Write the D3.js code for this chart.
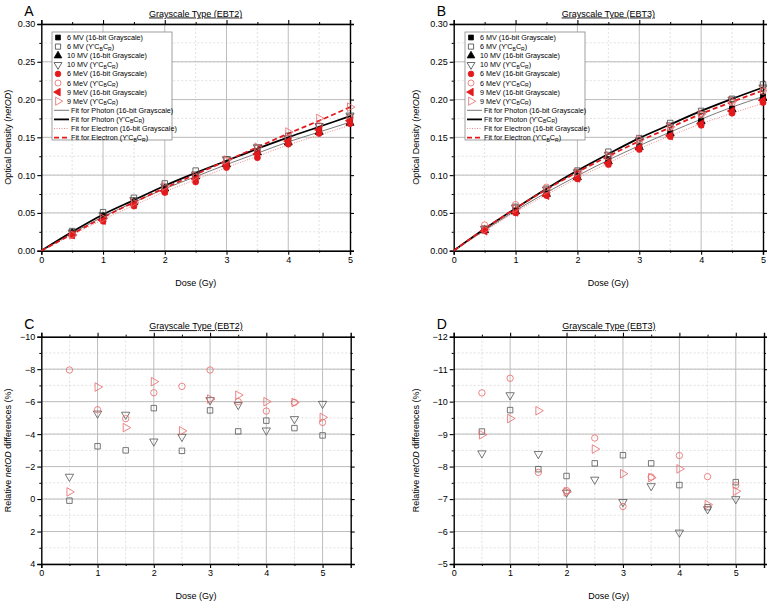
<!DOCTYPE html>
<html>
<head>
<meta charset="utf-8">
<script src="https://cdn.jsdelivr.net/npm/d3@7"></script>
<style>
  body { margin: 0; background: #fff; }
  svg { font-family: "Liberation Sans", Arial, sans-serif; }
</style>
</head>
<body>
<div id="chart"></div>
<script>
// Doses
const doses = [0.5, 1, 1.5, 2, 2.5, 3, 3.5, 4, 4.5, 5];
const fitDoses = [0, 0.5, 1, 1.5, 2, 2.5, 3, 3.5, 4, 4.5, 5];

// Legend labels
const seriesLabels = [
  "6 MV (16-bit Grayscale)", "6 MV (Y'CBCR)",
  "10 MV (16-bit Grayscale)", "10 MV (Y'CBCR)",
  "6 MeV (16-bit Grayscale)", "6 MeV (Y'CBCR)",
  "9 MeV (16-bit Grayscale)", "9 MeV (Y'CBCR)"
];
const fitLabels = [
  "Fit for Photon (16-bit Grayscale)", "Fit for Photon (Y'CBCR)",
  "Fit for Electron (16-bit Grayscale)", "Fit for Electron (Y'CBCR)"
];

// EBT2 netOD (panel A)
const ebt2_6MV_gray   = [0.024, 0.046, 0.065, 0.083, 0.099, 0.115, 0.131, 0.145, 0.158, 0.170];
const ebt2_6MV_ycc    = [0.026, 0.051, 0.070, 0.089, 0.106, 0.121, 0.136, 0.152, 0.165, 0.177];
const ebt2_10MV_gray  = [0.023, 0.045, 0.064, 0.082, 0.098, 0.114, 0.130, 0.143, 0.157, 0.169];
const ebt2_10MV_ycc   = [0.024, 0.047, 0.067, 0.085, 0.101, 0.121, 0.137, 0.149, 0.165, 0.179];
const ebt2_6MeV_gray  = [0.020, 0.039, 0.059, 0.077, 0.091, 0.110, 0.123, 0.141, 0.155, 0.168];
const ebt2_6MeV_ycc   = [0.021, 0.042, 0.062, 0.082, 0.097, 0.119, 0.131, 0.149, 0.165, 0.176];
const ebt2_9MeV_gray  = [0.021, 0.040, 0.061, 0.079, 0.095, 0.113, 0.128, 0.145, 0.160, 0.172];
const ebt2_9MeV_ycc   = [0.021, 0.043, 0.064, 0.085, 0.099, 0.120, 0.137, 0.157, 0.175, 0.190];
const ebt2_fitPhotonGray = [0, 0.023, 0.045, 0.064, 0.082, 0.098, 0.114, 0.129, 0.144, 0.157, 0.170];
const ebt2_fitPhotonYcc  = [0, 0.025, 0.048, 0.067, 0.086, 0.103, 0.119, 0.135, 0.150, 0.164, 0.178];
const ebt2_fitElecGray   = [0, 0.021, 0.041, 0.060, 0.078, 0.094, 0.110, 0.125, 0.140, 0.153, 0.166];
const ebt2_fitElecYcc    = [0, 0.022, 0.044, 0.064, 0.083, 0.101, 0.119, 0.137, 0.155, 0.172, 0.190];

// EBT3 netOD (panel B)
const ebt3_6MV_gray   = [0.027, 0.053, 0.076, 0.098, 0.121, 0.138, 0.156, 0.172, 0.188, 0.204];
const ebt3_6MV_ycc    = [0.029, 0.058, 0.082, 0.106, 0.131, 0.149, 0.169, 0.185, 0.201, 0.220];
const ebt3_10MV_gray  = [0.027, 0.052, 0.075, 0.097, 0.118, 0.137, 0.155, 0.171, 0.187, 0.202];
const ebt3_10MV_ycc   = [0.029, 0.057, 0.081, 0.104, 0.127, 0.146, 0.166, 0.181, 0.200, 0.216];
const ebt3_6MeV_gray  = [0.027, 0.050, 0.073, 0.095, 0.114, 0.134, 0.151, 0.166, 0.182, 0.196];
const ebt3_6MeV_ycc   = [0.034, 0.061, 0.084, 0.102, 0.124, 0.143, 0.163, 0.180, 0.196, 0.211];
const ebt3_9MeV_gray  = [0.026, 0.051, 0.073, 0.096, 0.116, 0.136, 0.152, 0.168, 0.185, 0.199];
const ebt3_9MeV_ycc   = [0.028, 0.056, 0.080, 0.104, 0.126, 0.147, 0.164, 0.181, 0.198, 0.213];
const ebt3_fitPhotonGray = [0, 0.027, 0.053, 0.077, 0.099, 0.120, 0.139, 0.157, 0.174, 0.190, 0.204];
const ebt3_fitPhotonYcc  = [0, 0.029, 0.056, 0.082, 0.106, 0.128, 0.149, 0.167, 0.185, 0.201, 0.216];
const ebt3_fitElecGray   = [0, 0.026, 0.051, 0.074, 0.096, 0.116, 0.135, 0.152, 0.168, 0.182, 0.195];
const ebt3_fitElecYcc    = [0, 0.029, 0.056, 0.081, 0.104, 0.125, 0.145, 0.163, 0.181, 0.197, 0.212];

// Relative netOD differences (%) (panels C and D)
const diffEbt2_6MV  = [0.1, -3.25, -3.0, -5.6, -2.97, -5.46, -4.17, -4.83, -4.37, -3.92];
const diffEbt2_10MV = [-1.38, -5.27, -5.2, -3.55, -3.84, -6.1, -5.8, -4.23, -4.93, -5.87];
const diffEbt2_6MeV = [-7.95, -5.5, -4.95, -6.55, -6.94, -7.95, -6.0, -5.42, -5.95, -4.72];
const diffEbt2_9MeV = [-0.44, -6.9, -4.4, -7.23, -4.2, -6.16, -6.4, -6.0, -5.95, -5.03];
const diffEbt3_6MV  = [-9.08, -9.74, -7.92, -7.71, -8.1, -8.35, -8.1, -7.43, -6.75, -7.52];
const diffEbt3_10MV = [-8.41, -10.2, -8.39, -7.2, -7.6, -6.91, -7.4, -5.97, -6.69, -7.0];
const diffEbt3_6MeV = [-10.27, -10.72, -7.82, -7.26, -8.88, -6.77, -7.68, -8.34, -7.69, -7.42];
const diffEbt3_9MeV = [-8.98, -9.48, -9.72, -7.22, -8.54, -7.78, -7.66, -7.93, -6.83, -7.24];

const width = 767, height = 602;
const svg = d3.select("#chart").append("svg")
  .attr("width", width).attr("height", height);

const BLACK = "#000", GRAY = "#444", RED = "#e3191c", PINK = "#e86868";

// marker styles, in legend order
const markers = [
  { type: d3.symbolSquare, rot: 0, fill: BLACK, stroke: BLACK, size: 26 },
  { type: d3.symbolSquare, rot: 0, fill: "none", stroke: GRAY, size: 30 },
  { type: d3.symbolTriangle, rot: 0, fill: BLACK, stroke: BLACK, size: 28 },
  { type: d3.symbolTriangle, rot: 180, fill: "none", stroke: GRAY, size: 30 },
  { type: d3.symbolCircle, rot: 0, fill: RED, stroke: RED, size: 28 },
  { type: d3.symbolCircle, rot: 0, fill: "none", stroke: PINK, size: 32 },
  { type: d3.symbolTriangle, rot: -90, fill: RED, stroke: RED, size: 28 },
  { type: d3.symbolTriangle, rot: 90, fill: "none", stroke: PINK, size: 32 }
];
const fitStyles = [
  { color: "#7a7a7a", width: 1, dash: null },
  { color: "#000", width: 1.8, dash: null },
  { color: "#f08a8a", width: 1, dash: "1,1.5" },
  { color: RED, width: 1.8, dash: "5,3" }
];

// writes text, turning Y'CBCR into Y'C_B C_R with subscripts
function richText(sel, str) {
  const parts = str.split("Y'CBCR");
  parts.forEach((p, i) => {
    if (p) sel.append("tspan").text(p);
    if (i < parts.length - 1) {
      sel.append("tspan").text("Y'C");
      sel.append("tspan").attr("font-size", "0.7em").attr("dy", 1.5).text("B");
      sel.append("tspan").attr("dy", -1.5).text("C");
      sel.append("tspan").attr("font-size", "0.7em").attr("dy", 1.5).text("R");
      sel.append("tspan").attr("dy", -1.5).text(")");
    }
  });
}

function drawPanel(cfg) {
  const g = svg.append("g");
  const x = d3.scaleLinear().domain(cfg.xDomain).range([cfg.left, cfg.right]);
  const y = d3.scaleLinear().domain(cfg.yDomain).range([cfg.bottom, cfg.top]);

  // grid
  const xMinor = d3.range(cfg.xDomain[0] + 0.5, cfg.xDomain[1], 1);
  const xMajor = d3.range(cfg.xDomain[0] + 1, cfg.xDomain[1], 1);
  const yMinor = d3.range(Math.min(...cfg.yDomain), Math.max(...cfg.yDomain) + 1e-9, cfg.yMinor);
  const yMajor = d3.range(Math.min(...cfg.yDomain), Math.max(...cfg.yDomain) + 1e-9, cfg.yMajor);
  g.selectAll(".xminor").data(xMinor).join("line")
    .attr("x1", d => x(d)).attr("x2", d => x(d)).attr("y1", cfg.top).attr("y2", cfg.bottom)
    .attr("stroke", "#d4d4d4").attr("stroke-width", 0.7).attr("stroke-dasharray", "2,2");
  g.selectAll(".yminor").data(yMinor).join("line")
    .attr("y1", d => y(d)).attr("y2", d => y(d)).attr("x1", cfg.left).attr("x2", cfg.right)
    .attr("stroke", "#d4d4d4").attr("stroke-width", 0.7).attr("stroke-dasharray", "2,2");
  g.selectAll(".xmajor").data(xMajor).join("line")
    .attr("x1", d => x(d)).attr("x2", d => x(d)).attr("y1", cfg.top).attr("y2", cfg.bottom)
    .attr("stroke", "#bdbdbd").attr("stroke-width", 1);
  g.selectAll(".ymajor").data(yMajor).join("line")
    .attr("y1", d => y(d)).attr("y2", d => y(d)).attr("x1", cfg.left).attr("x2", cfg.right)
    .attr("stroke", "#bdbdbd").attr("stroke-width", 1);

  // axes (all four sides)
  const xTicks = d3.range(cfg.xDomain[0], 5 + 1e-9, 1);
  const axB = d3.axisBottom(x).tickValues(xTicks).tickFormat(d3.format("d")).tickSize(4).tickPadding(2);
  const axT = d3.axisTop(x).tickValues(xTicks).tickFormat("").tickSize(4);
  const axL = d3.axisLeft(y).tickValues(yMajor).tickFormat(cfg.yFormat).tickSize(4).tickPadding(2);
  const axR = d3.axisRight(y).tickValues(yMajor).tickFormat("").tickSize(4);
  const minorB = d3.axisBottom(x).tickValues(xMinor).tickFormat("").tickSize(2);
  const minorT = d3.axisTop(x).tickValues(xMinor).tickFormat("").tickSize(2);
  const yMinorOnly = yMinor.filter(v => !yMajor.some(m => Math.abs(m - v) < 1e-9));
  const minorL = d3.axisLeft(y).tickValues(yMinorOnly).tickFormat("").tickSize(2);
  const minorR = d3.axisRight(y).tickValues(yMinorOnly).tickFormat("").tickSize(2);

  [[axB, minorB, `translate(0,${cfg.bottom})`], [axT, minorT, `translate(0,${cfg.top})`],
   [axL, minorL, `translate(${cfg.left},0)`], [axR, minorR, `translate(${cfg.right},0)`]]
    .forEach(([ax, mn, tr]) => {
      const a = g.append("g").attr("transform", tr).call(ax);
      a.select(".domain").attr("stroke-width", 1.4);
      a.selectAll(".tick line").attr("stroke-width", 1.1);
      a.selectAll("text").attr("font-size", 9).attr("font-family", "Liberation Sans, Arial").attr("fill", "#000");
      const m = g.append("g").attr("transform", tr).call(mn);
      m.select(".domain").remove();
      m.selectAll(".tick line").attr("stroke-width", 1);
    });

  // fit lines
  if (cfg.fits) {
    const line = d3.line().x((d, i) => x(fitDoses[i])).y(d => y(d)).curve(d3.curveMonotoneX);
    cfg.fits.forEach((f, i) => {
      const s = fitStyles[i];
      g.append("path").attr("d", line(f)).attr("fill", "none")
        .attr("stroke", s.color).attr("stroke-width", s.width)
        .attr("stroke-dasharray", s.dash);
    });
  }

  // points
  cfg.series.forEach(sr => {
    const m = markers[sr.marker];
    const sym = d3.symbol().type(m.type).size(m.size);
    g.append("g").selectAll("path").data(sr.values).join("path")
      .attr("d", sym)
      .attr("transform", (d, i) => `translate(${x(doses[i])},${y(d)}) rotate(${m.rot})`)
      .attr("fill", m.fill)
      .attr("stroke", sr.stroke || m.stroke)
      .attr("stroke-width", 0.8);
  });

  // legend
  if (cfg.legend) {
    const lx = cfg.legend.x, ly = cfg.legend.y;
    g.append("rect").attr("x", lx).attr("y", ly).attr("width", 120).attr("height", 108)
      .attr("fill", "#fff").attr("stroke", "#888").attr("stroke-width", 0.8);
    const step = 9.1;
    seriesLabels.forEach((lab, i) => {
      const cy = ly + 5.5 + i * step;
      const m = markers[i];
      g.append("path").attr("d", d3.symbol().type(m.type).size(m.size * 0.9)())
        .attr("transform", `translate(${lx + 6},${cy}) rotate(${m.rot})`)
        .attr("fill", m.fill).attr("stroke", m.stroke).attr("stroke-width", 0.8);
      const t = g.append("text").attr("x", lx + 15).attr("y", cy + 2.5).attr("font-size", 7.2);
      richText(t, lab.replace(/\)$/, lab.includes("Y'CBCR") ? "" : ")"));
    });
    fitLabels.forEach((lab, i) => {
      const cy = ly + 5.5 + (i + 8) * step;
      const s = fitStyles[i];
      g.append("line").attr("x1", lx + 2).attr("x2", lx + 17).attr("y1", cy).attr("y2", cy)
        .attr("stroke", s.color).attr("stroke-width", s.width).attr("stroke-dasharray", s.dash);
      const t = g.append("text").attr("x", lx + 19).attr("y", cy + 2.5).attr("font-size", 7.2);
      richText(t, lab.replace(/\)$/, lab.includes("Y'CBCR") ? "" : ")"));
    });
  }

  // titles
  g.append("text").attr("x", (cfg.left + cfg.right) / 2).attr("y", cfg.top - 7.5)
    .attr("text-anchor", "middle").attr("font-size", 9).attr("text-decoration", "underline")
    .text(cfg.title);
  g.append("text").attr("x", cfg.left - 17).attr("y", cfg.top - 8).attr("font-size", 14).text(cfg.letter);
  g.append("text").attr("x", (cfg.left + cfg.right) / 2).attr("y", cfg.bottom + 35)
    .attr("text-anchor", "middle").attr("font-size", 9).text("Dose (Gy)");
  const yt = g.append("text").attr("transform", `translate(${cfg.yTitleX},${(cfg.top + cfg.bottom) / 2}) rotate(-90)`)
    .attr("text-anchor", "middle").attr("font-size", 9);
  cfg.yTitle.forEach(p => yt.append("tspan").attr("font-style", p.italic ? "italic" : null).text(p.t));
}

const odTitle = [{ t: "Optical Density (" }, { t: "netOD", italic: true }, { t: ")" }];
const diffTitle = [{ t: "Relative " }, { t: "netOD", italic: true }, { t: " differences (%)" }];

drawPanel({
  letter: "A", title: "Grayscale Type (EBT2)",
  left: 41.3, right: 350, top: 24, bottom: 250.7,
  xDomain: [0, 5], yDomain: [0, 0.30], yMajor: 0.05, yMinor: 0.025,
  yFormat: d3.format(".2f"), yTitle: odTitle, yTitleX: 11,
  series: [ebt2_6MV_gray, ebt2_6MV_ycc, ebt2_10MV_gray, ebt2_10MV_ycc,
           ebt2_6MeV_gray, ebt2_6MeV_ycc, ebt2_9MeV_gray, ebt2_9MeV_ycc]
           .map((v, i) => ({ values: v, marker: i })),
  fits: [ebt2_fitPhotonGray, ebt2_fitPhotonYcc, ebt2_fitElecGray, ebt2_fitElecYcc],
  legend: { x: 52, y: 32 }
});

drawPanel({
  letter: "B", title: "Grayscale Type (EBT3)",
  left: 453.7, right: 763, top: 24, bottom: 250.7,
  xDomain: [0, 5], yDomain: [0, 0.30], yMajor: 0.05, yMinor: 0.025,
  yFormat: d3.format(".2f"), yTitle: odTitle, yTitleX: 419,
  series: [ebt3_6MV_gray, ebt3_6MV_ycc, ebt3_10MV_gray, ebt3_10MV_ycc,
           ebt3_6MeV_gray, ebt3_6MeV_ycc, ebt3_9MeV_gray, ebt3_9MeV_ycc]
           .map((v, i) => ({ values: v, marker: i })),
  fits: [ebt3_fitPhotonGray, ebt3_fitPhotonYcc, ebt3_fitElecGray, ebt3_fitElecYcc],
  legend: { x: 465, y: 32 }
});

drawPanel({
  letter: "C", title: "Grayscale Type (EBT2)",
  left: 41.3, right: 350.7, top: 336.7, bottom: 564,
  xDomain: [0, 5.5], yDomain: [4, -10], yMajor: 2, yMinor: 1,
  yFormat: d3.format("d"), yTitle: diffTitle, yTitleX: 11,
  series: [
    { values: diffEbt2_6MV, marker: 1, stroke: "#555" },
    { values: diffEbt2_10MV, marker: 3, stroke: "#555" },
    { values: diffEbt2_6MeV, marker: 5, stroke: PINK },
    { values: diffEbt2_9MeV, marker: 7, stroke: PINK }
  ]
});

drawPanel({
  letter: "D", title: "Grayscale Type (EBT3)",
  left: 453.7, right: 764, top: 336.7, bottom: 564,
  xDomain: [0, 5.5], yDomain: [-5, -12], yMajor: 1, yMinor: 0.5,
  yFormat: d3.format("d"), yTitle: diffTitle, yTitleX: 419,
  series: [
    { values: diffEbt3_6MV, marker: 1, stroke: "#555" },
    { values: diffEbt3_10MV, marker: 3, stroke: "#555" },
    { values: diffEbt3_6MeV, marker: 5, stroke: PINK },
    { values: diffEbt3_9MeV, marker: 7, stroke: PINK }
  ]
});
</script>
</body>
</html>
